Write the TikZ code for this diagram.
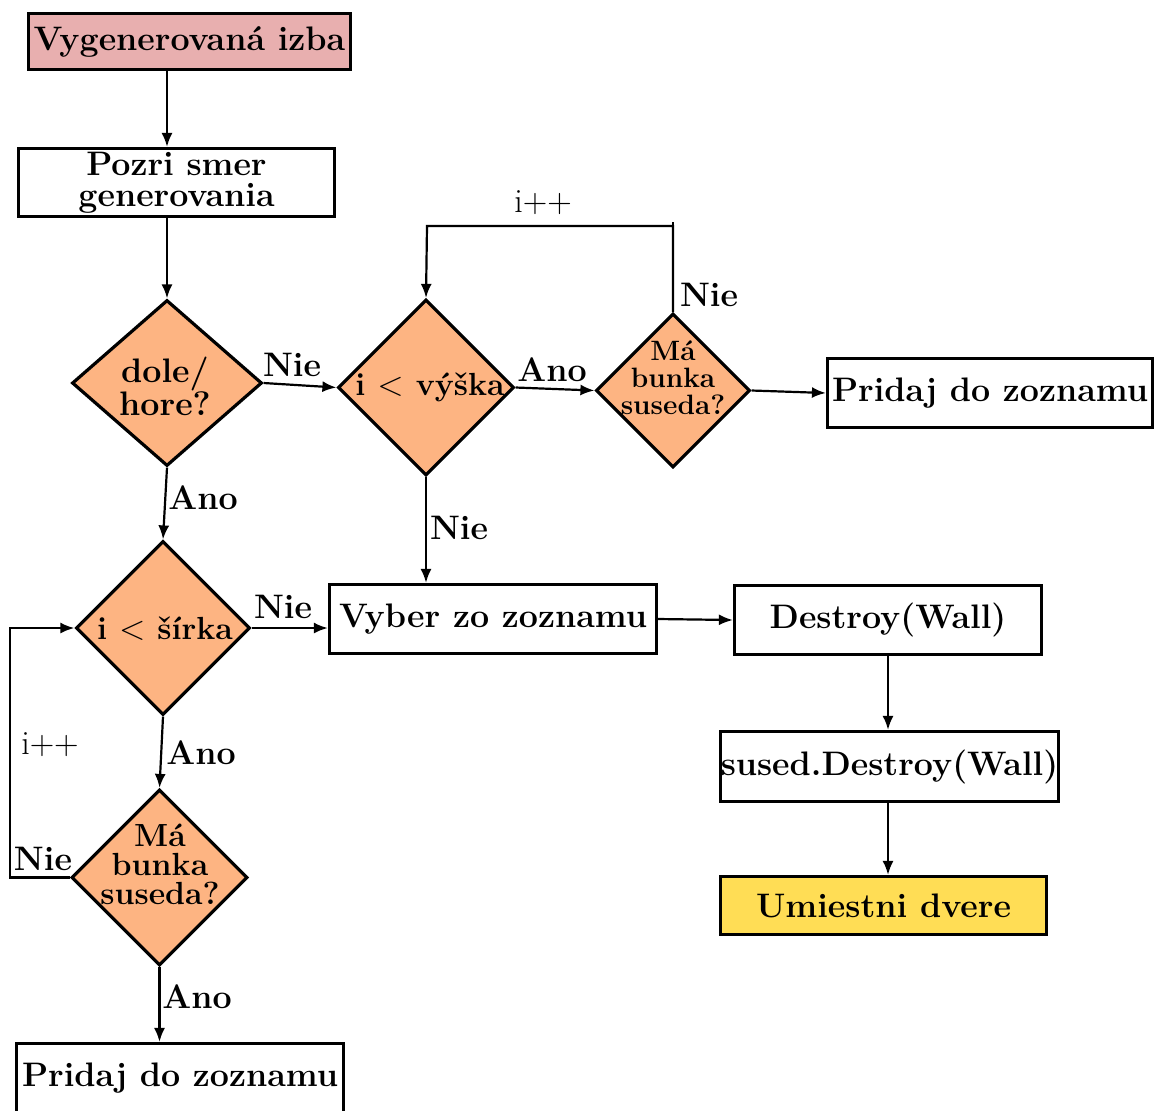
\documentclass[tikz,border=0pt]{standalone}
\usepackage{fontspec}
\usetikzlibrary{shapes.geometric,arrows.meta}
\definecolor{pinkfill}{HTML}{E8AFAF}
\definecolor{orangefill}{HTML}{FDB482}
\definecolor{yellowfill}{HTML}{FFDD55}
\tikzset{
  boxnode/.style={draw, line width=1.6pt, inner sep=0pt, align=center,
    font=\fontsize{17}{15.5}\selectfont\bfseries},
  dianode/.style={draw, diamond, fill=orangefill, line width=1.6pt, inner sep=0pt},
  diatext/.style={inner sep=0pt, align=center, font=\fontsize{17}{16.5}\selectfont\bfseries},
  lbl/.style={inner sep=0pt, font=\fontsize{17}{17}\selectfont\bfseries},
  inclbl/.style={inner sep=0pt, font=\fontsize{17}{17}\selectfont},
  arr/.style={-{Latex[length=7pt,width=5.5pt]}, line width=1.1pt},
  plainline/.style={line width=1.1pt}
}
\begin{document}
\begin{tikzpicture}[x=0.5pt,y=-0.5pt]
\useasboundingbox (0,0) rectangle (1155,1110);
% boxes
\node[boxnode, fill=pinkfill, minimum width=161pt, minimum height=28pt] (b1) at (189.5,41.5) {Vygenerovaná izba};
\node[boxnode, minimum width=158pt, minimum height=34pt] (b2) at (176.5,182.5) {Pozri smer\\generovania};
\node[boxnode, minimum width=162.5pt, minimum height=34.5pt] (pr1) at (990,393) {Pridaj do zoznamu};
\node[boxnode, minimum width=163.5pt, minimum height=34.5pt] (vy) at (493,619) {Vyber zo zoznamu};
\node[boxnode, minimum width=153.5pt, minimum height=34.5pt] (de) at (888,620) {Destroy(Wall)};
\node[boxnode, minimum width=169pt, minimum height=35pt] (sd) at (889.5,766.5) {sused.Destroy(Wall)};
\node[boxnode, fill=yellowfill, minimum width=163pt, minimum height=29pt] (um) at (883.5,905.5) {Umiestni dvere};
\node[boxnode, minimum width=163.5pt, minimum height=34.5pt] (pr2) at (180,1078) {Pridaj do zoznamu};
% diamonds
\node[dianode, minimum width=95pt, minimum height=83pt] (d1) at (167,383) {};
\node[dianode, minimum width=88pt, minimum height=88pt] (d2) at (426,387.5) {};
\node[dianode, minimum width=77pt, minimum height=77pt] (d3) at (673,390.5) {};
\node[dianode, minimum width=87pt, minimum height=87pt] (d4) at (163,628) {};
\node[dianode, minimum width=88pt, minimum height=88pt] (d5) at (159.5,877.5) {};
% diamond texts
\node[diatext] (t1) at (165,386) {dole/\\hore?};
\node[diatext, font=\fontsize{16}{16}\selectfont\bfseries] (t2) at (430,387) {i $<$ výška};
\node[diatext, font=\fontsize{14}{13.5}\selectfont\bfseries] (t3) at (673,378) {Má\\bunka\\suseda?};
\node[diatext, font=\fontsize{16}{16}\selectfont\bfseries] (t4) at (165,629) {i $<$ šírka};
\node[diatext, font=\fontsize{16}{14.5}\selectfont\bfseries] (t5) at (160,864) {Má\\bunka\\suseda?};
% connectors
\draw[arr] (b1.south -| d1.north) -- (b2.north -| d1.north);
\draw[arr] (b2.south -| d1.north) -- (d1.north);
\draw[arr] (d1.east) -- (d2.west);
\draw[arr] (d2.east) -- (d3.west);
\draw[arr] (d3.east) -- (pr1.west);
\coordinate (c1) at (673,226);
\coordinate (c2) at (427,226);
\coordinate (c0) at (673,222);
\draw[plainline] (d3.north) -- (c0);
\draw[arr] (d3.north) -- (c1) -- (c2) -- (d2.north);
\draw[arr] (d2.south) -- (vy.north -| d2.south);
\draw[arr] (d1.south) -- (d4.north);
\draw[arr] (d4.east) -- (d4.east -| vy.west);
\draw[arr] (d4.south) -- (d5.north);
\coordinate (c3) at (10,877.5);
\coordinate (c4) at (10,628);
\draw[arr] (d5.west) -- (c3) -- (c4) -- (d4.west);
\draw[arr] (d5.south) -- (pr2.north -| d5.south);
\draw[arr] (vy.east) -- (de.west);
\draw[arr] (de.south) -- (sd.north -| de.south);
\draw[arr] (sd.south -| de.south) -- (um.north -| de.south);
% labels
\node[lbl] (l1) at (292,365) {Nie};
\node[lbl] (l2) at (552,370) {Ano};
\node[lbl] (l3) at (709,295) {Nie};
\node[inclbl] (l4) at (543,203) {i++};
\node[lbl] (l5) at (459,528) {Nie};
\node[lbl] (l6) at (203,498) {Ano};
\node[lbl] (l7) at (283,607) {Nie};
\node[lbl] (l8) at (201,753) {Ano};
\node[lbl] (l9) at (43,859) {Nie};
\node[inclbl] (l10) at (50,745) {i++};
\node[lbl] (l11) at (197,997) {Ano};
\end{tikzpicture}
\end{document}
